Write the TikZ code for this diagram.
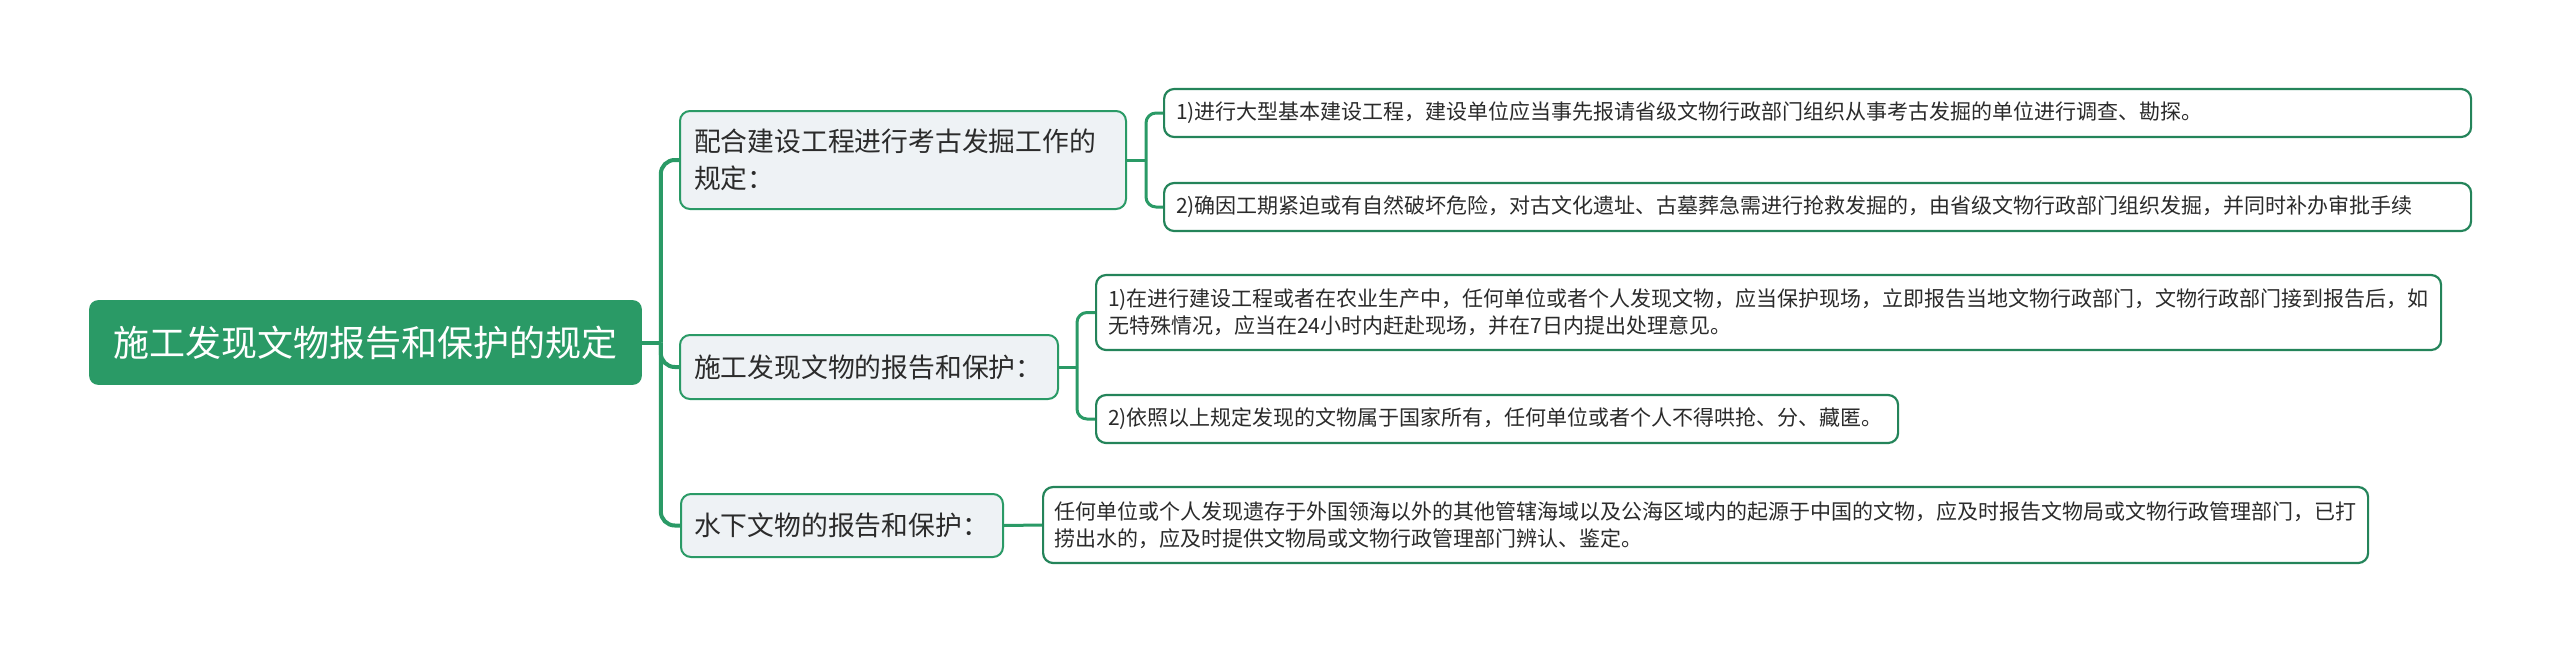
\documentclass[tikz,border=0pt]{standalone}
\usepackage{fontspec}
\newfontfamily\cjk{Noto Sans CJK SC}
\definecolor{mgreen}{HTML}{2A9A66}
\definecolor{bgreen}{HTML}{24845A}
\definecolor{lfill}{HTML}{EEF2F5}
\definecolor{tgray}{HTML}{2B2B2B}
\begin{document}
\begin{tikzpicture}[x=0.5pt,y=-0.5pt,
  rootbox/.style={draw=mgreen, fill=mgreen, rounded corners=4pt, text=white,
    font=\cjk\fontsize{18pt}{22pt}\selectfont, minimum width=275.5pt,
    minimum height=41.5pt, inner sep=0pt, line width=0.8pt},
  lonebox/.style={draw=mgreen, fill=lfill, rounded corners=5pt, line width=1pt,
    text=tgray, font=\cjk\fontsize{13.4pt}{18.5pt}\selectfont, align=left,
    inner xsep=7pt, inner ysep=0pt, anchor=west},
  ltwobox/.style={draw=bgreen, fill=white, rounded corners=5pt, line width=1.1pt,
    text=tgray, font=\cjk\fontsize{10.5pt}{13.5pt}\selectfont, align=left,
    inner xsep=6pt, inner ysep=0pt, anchor=west},
  conn/.style={draw=mgreen, line width=2pt},
  conntwo/.style={draw=mgreen, line width=1.5pt}
]
\useasboundingbox (0,0) rectangle (2560,653);

\node[rootbox] (root) at (365.5,342.5) {施工发现文物报告和保护的规定};

\node[lonebox, text width=209pt, minimum height=49pt] (A) at (679,160)
  {配合建设工程进行考古发掘工作的\\规定：};
\node[lonebox, text width=175pt, minimum height=32pt] (B) at (679,367)
  {施工发现文物的报告和保护：};
\node[lonebox, inner xsep=6.5pt, text width=148pt, minimum height=31.5pt] (C) at (680,525.5)
  {水下文物的报告和保护：};

\node[ltwobox, text width=641.5pt, minimum height=24pt] (A1) at (1163,113)
  {1)进行大型基本建设工程，建设单位应当事先报请省级文物行政部门组织从事考古发掘的单位进行调查、勘探。};
\node[ltwobox, text width=641.5pt, minimum height=24pt] (A2) at (1163,207)
  {2)确因工期紧迫或有自然破坏危险，对古文化遗址、古墓葬急需进行抢救发掘的，由省级文物行政部门组织发掘，并同时补办审批手续};
\node[ltwobox, text width=660.5pt, minimum height=37.5pt] (B1) at (1095,312.5)
  {1)在进行建设工程或者在农业生产中，任何单位或者个人发现文物，应当保护现场，立即报告当地文物行政部门，文物行政部门接到报告后，如\\无特殊情况，应当在24小时内赶赴现场，并在7日内提出处理意见。};
\node[ltwobox, text width=389pt, minimum height=24pt] (B2) at (1095,419)
  {2)依照以上规定发现的文物属于国家所有，任何单位或者个人不得哄抢、分、藏匿。};
\node[ltwobox, inner xsep=5.5pt, text width=651.5pt, minimum height=38pt] (C1) at (1042,525)
  {任何单位或个人发现遗存于外国领海以外的其他管辖海域以及公海区域内的起源于中国的文物，应及时报告文物局或文物行政管理部门，已打\\捞出水的，应及时提供文物局或文物行政管理部门辨认、鉴定。};

\path (root.east) ++(19,0) coordinate (j0);
\draw[conn] (root.east) -- (j0);
\draw[conn, rounded corners=7pt] (j0) |- (A.west);
\draw[conn, rounded corners=7pt] (j0) |- (B.west);
\draw[conn, rounded corners=7pt] (j0) |- (C.west);

\path (A.east) ++(19,0) coordinate (j1);
\draw[conntwo] (A.east) -- (j1);
\draw[conntwo, rounded corners=5pt] (j1) |- (A1.west);
\draw[conntwo, rounded corners=5pt] (j1) |- (A2.west);

\path (B.east) ++(18,0) coordinate (j2);
\draw[conntwo] (B.east) -- (j2);
\draw[conntwo, rounded corners=5pt] (j2) |- (B1.west);
\draw[conntwo, rounded corners=5pt] (j2) |- (B2.west);

\draw[conntwo] (C.east) -- (C1.west);
\end{tikzpicture}
\end{document}
